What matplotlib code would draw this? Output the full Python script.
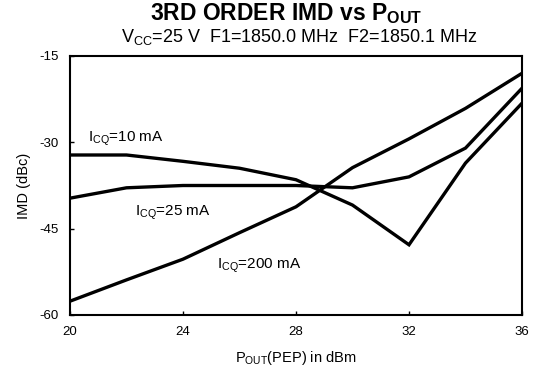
import matplotlib
matplotlib.use("Agg")
from matplotlib import pyplot as plt

plt.rcParams['font.family'] = ['Liberation Sans', 'DejaVu Sans']
plt.rcParams['mathtext.fontset'] = 'custom'
plt.rcParams['mathtext.rm'] = 'Liberation Sans'
plt.rcParams['mathtext.it'] = 'Liberation Sans'
plt.rcParams['mathtext.bf'] = 'Liberation Sans:bold'
plt.rcParams['mathtext.default'] = 'regular'
plt.rcParams['axes.unicode_minus'] = False

# output power (dBm)
pout = [20, 22, 24, 26, 28, 30, 32, 34, 36]

# IMD (dBc) per quiescent current
imd_10ma = [-32.2, -32.2, -33.3, -34.5, -36.5, -40.9, -47.8, -33.6, -23.2]
imd_25ma = [-39.7, -37.9, -37.5, -37.5, -37.5, -37.9, -36.0, -31.0, -20.6]
imd_200ma = [-57.6, -53.9, -50.3, -45.7, -41.2, -34.4, -29.4, -24.1, -18.0]

xticks = [20, 24, 28, 32, 36]
yticks = [-60, -45, -30, -15]

fig = plt.figure(figsize=(5.42, 3.75), dpi=100)
ax = fig.add_axes([70 / 542, 1 - 315 / 375, 452 / 542, 259 / 375])

for imd in (imd_10ma, imd_25ma, imd_200ma):
    ax.plot(pout, imd, color='black', lw=2.4, solid_joinstyle='miter')

ax.set_xlim(20, 36)
ax.set_ylim(-60, -15)
ax.set_xticks(xticks)
ax.set_yticks(yticks)
ax.tick_params(direction='in', length=3, width=1, labelsize=9.5, pad=8)
for s in ax.spines.values():
    s.set_linewidth(1.5)

ax.text(20.65, -31.0, r'I$_{CQ}$=10 mA', fontsize=11, va='bottom')
ax.text(22.3, -42.2, r'I$_{CQ}$=25 mA', fontsize=11, va='center')
ax.text(25.2, -51.4, r'I$_{CQ}$=200 mA', fontsize=11, va='center')

ax.set_xlabel(r'P$_{OUT}$(PEP) in dBm', fontsize=10.5, labelpad=8)
ax.set_ylabel('IMD (dBc)', fontsize=10.5, labelpad=6)

fig.text(0.527, 0.963, r'3RD ORDER IMD vs P$_{OUT}$', fontsize=16.5, fontweight='bold',
         ha='center', va='center')
fig.text(0.553, 0.902, r'V$_{CC}$=25 V  F1=1850.0 MHz  F2=1850.1 MHz', fontsize=13,
         ha='center', va='center')

fig.savefig('out.png', dpi=100)
